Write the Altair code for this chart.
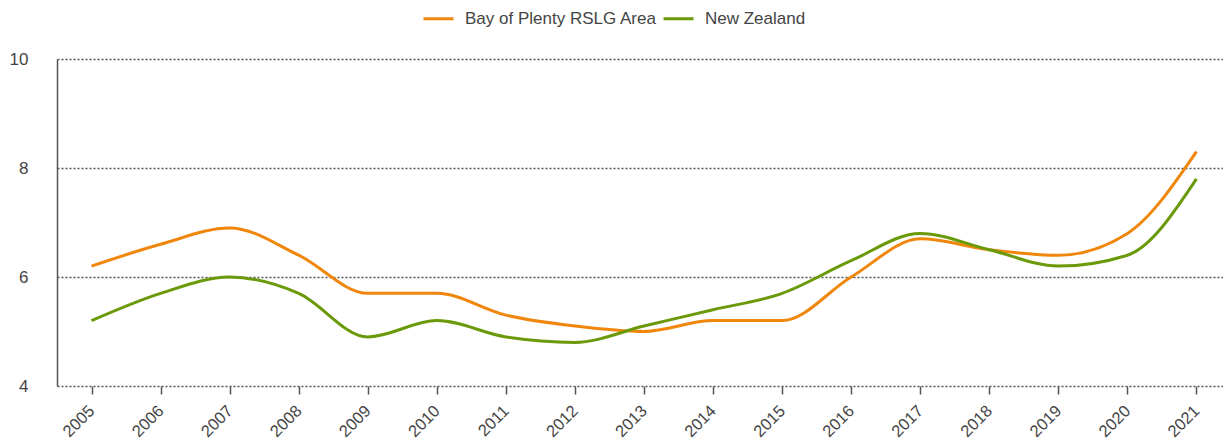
import altair as alt
import pandas as pd

years = list(range(2005, 2022))
bop = [6.2, 6.6, 6.9, 6.4, 5.7, 5.7, 5.3, 5.1, 5.0, 5.2, 5.2, 6.0, 6.7, 6.5, 6.4, 6.8, 8.3]
nz = [5.2, 5.7, 6.0, 5.7, 4.9, 5.2, 4.9, 4.8, 5.1, 5.4, 5.7, 6.3, 6.8, 6.5, 6.2, 6.4, 7.8]
series = ["Bay of Plenty RSLG Area", "New Zealand"]
colors = ["#F0860C", "#6A990A"]

rows = []
for name, vals in zip(series, [bop, nz]):
    for y, v in zip(years, vals):
        rows.append({"Year": y, "Value": v, "Series": name})
df = pd.DataFrame(rows)

FONT = "Liberation Sans"

chart = alt.Chart(df).mark_line(strokeWidth=3, interpolate="monotone").encode(
    x=alt.X("Year:Q", title=None,
            scale=alt.Scale(domain=[2004.5, 2021.384], nice=False, zero=False),
            axis=alt.Axis(values=years, format="d", labelAngle=-45, labelAlign="right",
                          labelBaseline="middle", labelFlush=False, labelOverlap=False,
                          labelFontSize=16.5, labelColor="#444444", labelFont=FONT,
                          domain=False, ticks=True, tickSize=8, tickColor="#555555",
                          tickWidth=1.5, labelPadding=14, grid=False)),
    y=alt.Y("Value:Q", title=None,
            scale=alt.Scale(domain=[4, 10], nice=False, zero=False),
            axis=alt.Axis(values=[4, 6, 8, 10], labelFontSize=17, labelColor="#444444",
                          labelFont=FONT, labelPadding=29, ticks=False,
                          domain=True, domainColor="#555555", domainWidth=1.5,
                          grid=True, gridColor="#555555", gridDash=[2, 2],
                          gridWidth=1.5)),
    color=alt.Color("Series:N", sort=series,
                    scale=alt.Scale(domain=series, range=colors),
                    legend=alt.Legend(title=None, orient="none", direction="horizontal",
                                      legendX=365, legendY=-57,
                                      symbolType="stroke", symbolSize=900,
                                      symbolStrokeWidth=3, labelFontSize=17,
                                      labelColor="#444444", labelFont=FONT,
                                      labelLimit=400,
                                      labelOffset=10, columnPadding=0)),
).properties(
    width=1166, height=327,
    autosize=alt.AutoSizeParams(type="none"),
    padding={"left": 49, "top": 51, "right": 0, "bottom": 59},
).configure_view(stroke=None)

chart.save("out.html", embed_options={"renderer": "svg", "actions": False})
